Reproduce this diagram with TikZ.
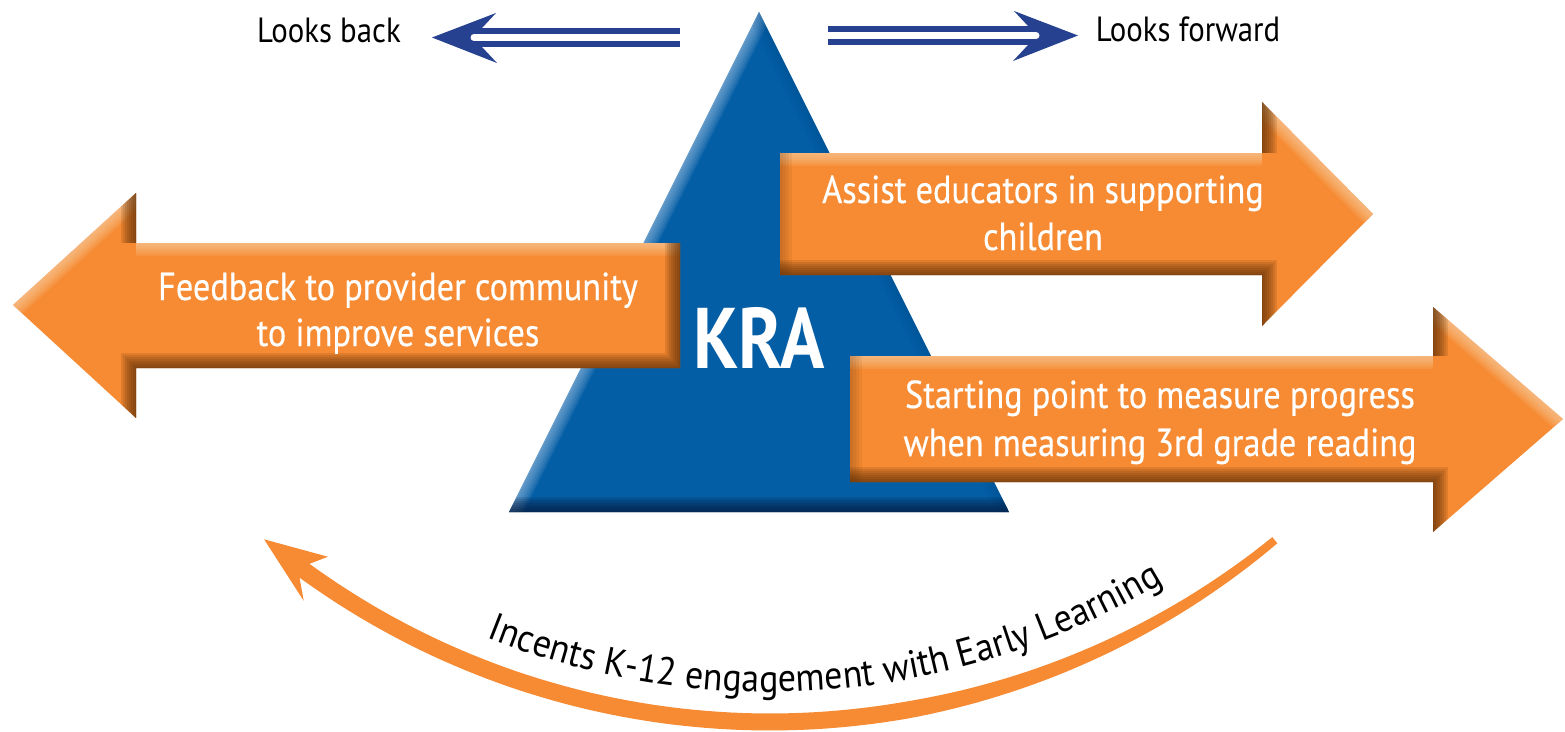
\documentclass[tikz,border=0pt]{standalone}
\usepackage{fontspec}
\setmainfont{PT Sans}
\newfontfamily\condfont[FakeStretch=0.88]{PT Sans}
\newfontfamily\boxfont[FakeStretch=0.88,FakeBold=0.4]{PT Sans}
\newfontfamily\curvefont[FakeStretch=0.92]{PT Sans}
\newfontfamily\krafont[FakeStretch=0.85]{PT Sans}
\usetikzlibrary{decorations.text}
\definecolor{kraorange}{HTML}{F68B33}
\definecolor{kradark}{HTML}{5A2C04}
\definecolor{kralight}{HTML}{FDD6B0}
\definecolor{krablue}{HTML}{045EA6}
\definecolor{kranavy}{HTML}{06183A}
\definecolor{kralightblue}{HTML}{A8C6E6}
\definecolor{kradeepblue}{HTML}{00427F}
\definecolor{arrowblue}{HTML}{26418F}
\newcommand{\glow}[2]{\foreach \gw in {30,26,...,2}{\draw[#1,line width=\gw pt,opacity=0.14] #2;}}
\newcommand{\glowlight}[2]{\foreach \gw in {26,22,...,2}{\draw[#1,line width=\gw pt,opacity=0.12] #2;}}
\newcommand{\glowsoft}[2]{\foreach \gw in {24,18,...,6}{\draw[#1,line width=\gw pt,opacity=0.07] #2;}}
\tikzset{
  x=1pt, y=-1pt,
  declare function={arcw(\t)=17-9*max(0,(80-\t)/29.6);},
  labeltext/.style={font=\condfont\fontsize{35}{40}\selectfont, text=black, inner sep=0pt},
  arrowtext/.style={font=\boxfont\fontsize{39}{44}\selectfont, text=white, inner sep=0pt, anchor=base},
  kratext/.style={font=\krafont\bfseries\fontsize{86}{90}\selectfont, text=white, inner sep=0pt, anchor=base},
  dblline/.style={arrowblue, line width=6pt},
}
\begin{document}
\begin{tikzpicture}
\useasboundingbox (0,0) rectangle (1565,731);
\fill[white] (0,0) rectangle (1565,731);

% ---------- triangle ----------
\def\tri{(759,12) -- (1009,512) -- (509,512) -- cycle}
\fill[krablue] \tri;
\begin{scope}
  \clip \tri;
  \glowlight{kralightblue}{(509,512) -- (759,12)}
  \glowsoft{kradeepblue}{(759,12) -- (1009,512)}
  \glow{kranavy}{(509,512) -- (1009,512)}
\end{scope}
\node[kratext] (kra) at (759,368) {KRA};

% ---------- left orange arrow ----------
\def\arrL{(13,305) -- (136,193) -- (136,243) -- (680,243) -- (680,368) -- (136,368) -- (136,418) -- cycle}
\fill[kraorange] \arrL;
\begin{scope}
  \clip \arrL;
  \glowlight{kralight}{(13,305) -- (136,193)}
  \glowlight{kralight}{(136,243) -- (680,243)}
  \glow{kradark}{(136,193) -- (136,243)}
  \glow{kradark}{(680,243) -- (680,368) -- (136,368) -- (136,418)}
\end{scope}
\node[arrowtext] (fb1) at (398,300) {Feedback to provider community};
\node[arrowtext] (fb2) at (398,346) {to improve services};

% ---------- upper right orange arrow ----------
\def\arrA{(780,153) -- (1262,153) -- (1262,102) -- (1373,214) -- (1262,326) -- (1262,275) -- (780,275) -- cycle}
\fill[kraorange] \arrA;
\begin{scope}
  \clip \arrA;
  \glowlight{kralight}{(780,153) -- (1262,153)}
  \glowlight{kralight}{(1262,102) -- (1373,214)}
  \glow{kradark}{(1262,153) -- (1262,102)}
  \glow{kradark}{(1262,326) -- (1262,275) -- (780,275)}
  \glowsoft{kradark}{(780,275) -- (780,153)}
\end{scope}
\node[arrowtext] (as1) at (1043,203) {Assist educators in supporting};
\node[arrowtext] (as2) at (1043,250) {children};

% ---------- lower right orange arrow ----------
\def\arrB{(850,356) -- (1433,356) -- (1433,307) -- (1563,419) -- (1433,532) -- (1433,482) -- (850,482) -- cycle}
\fill[kraorange] \arrB;
\begin{scope}
  \clip \arrB;
  \glowlight{kralight}{(850,356) -- (1433,356)}
  \glowlight{kralight}{(1433,307) -- (1563,419)}
  \glow{kradark}{(1433,356) -- (1433,307)}
  \glow{kradark}{(1433,532) -- (1433,482) -- (850,482)}
  \glowsoft{kradark}{(850,482) -- (850,356)}
\end{scope}
\node[arrowtext] (sp1) at (1160,408) {Starting point to measure progress};
\node[arrowtext] (sp2) at (1160,456) {when measuring 3rd grade reading};

% ---------- top double arrows ----------
\coordinate (lbTip) at (432,37.5);
\coordinate (lfTip) at (1078,35.5);
\draw[dblline] (472,31) -- (680,31);
\draw[dblline] (472,44) -- (680,44);
\fill[arrowblue] (lbTip) -- (496,13) -- (482,28) -- (482,47) -- (497,63) -- cycle;
\draw[white, line width=7pt, line cap=round] (474,37.5) -- (500,37.5);
\node[labeltext] (lookback) at (329,30) {Looks back};

\draw[dblline] (828,29) -- (1036,29);
\draw[dblline] (828,42) -- (1036,42);
\fill[arrowblue] (lfTip) -- (1014,11) -- (1028,26) -- (1028,45) -- (1013,61) -- cycle;
\draw[white, line width=7pt, line cap=round] (1036,35.5) -- (1010,35.5);
\node[labeltext] (lookfwd) at (1188,29) {Looks forward};

% ---------- curved arrow ----------
\coordinate (arcEnd) at ({770+792*cos(50.4)},{-70+792*sin(50.4)});
\coordinate (arcTip) at ({770+792*cos(129.7)},{-70+792*sin(129.7)});
\fill[kraorange]
  plot[domain=50.4:126, samples=90] ({770+(792+arcw(\x)/2)*cos(\x)},{-70+(792+arcw(\x)/2)*sin(\x)})
  -- ({770+817*cos(124.8)},{-70+817*sin(124.8)})
  -- (arcTip)
  -- ({770+767*cos(125.2)},{-70+767*sin(125.2)})
  -- plot[domain=126:50.4, samples=90] ({770+(792-arcw(\x)/2)*cos(\x)},{-70+(792-arcw(\x)/2)*sin(\x)})
  -- cycle;
\path[decorate, decoration={text along path, text align=center,
   text={|\curvefont\fontsize{39}{41}\selectfont|Incents K-12 engagement with Early Learning}}]
   plot[domain=115:55.7, samples=120] ({770+762*cos(\x)},{-70+762*sin(\x)});
\end{tikzpicture}
\end{document}
